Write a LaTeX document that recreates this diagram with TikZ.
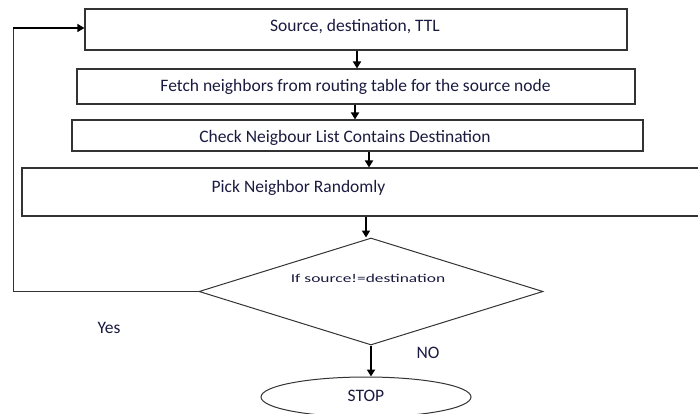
\documentclass[tikz,border=0pt]{standalone}
\usepackage{fontspec}
\setmainfont{Carlito}
\newfontfamily\widefont[FakeStretch=1.45]{Carlito}
\usetikzlibrary{arrows.meta,shapes.geometric}
\definecolor{linegray}{HTML}{333333}
\definecolor{txt}{HTML}{1A1A40}
\tikzset{
  procbox/.style={draw=linegray, line width=1.1pt, rectangle, inner sep=0pt},
  boxtext/.style={text=txt, font=\fontsize{17.5}{20}\selectfont, inner sep=0pt},
  labeltext/.style={text=txt, font=\fontsize{17.5}{20}\selectfont, inner sep=0pt},
  smalltext/.style={text=txt, font=\widefont\fontsize{12}{14}\selectfont, inner sep=0pt},
  flowarrow/.style={draw=black, line width=1.8pt, -{Triangle[length=7pt,width=8pt]}},
  thinline/.style={draw=linegray, line width=1pt}
}
\begin{document}
\begin{tikzpicture}[x=1pt,y=-1pt]
\useasboundingbox (0,0) rectangle (698,414);
\node[procbox, minimum width=542pt, minimum height=41pt] (box1) at (356,29.5) {};
\node[boxtext] (t1) at (355,27) {Source, destination, TTL};
\node[procbox, minimum width=558pt, minimum height=35pt] (box2) at (356,86.5) {};
\node[boxtext] (t2) at (355.5,87) {Fetch neighbors from routing table for the source node};
\node[procbox, minimum width=571pt, minimum height=31pt] (box3) at (357.5,135.5) {};
\node[boxtext] (t3) at (345,138) {Check Neigbour List Contains Destination};
\node[procbox, minimum width=680pt, minimum height=48pt] (box4) at (362,192) {};
\node[boxtext] (t4) at (298.5,188) {Pick Neighbor Randomly};
\node[shape=diamond, draw=linegray, line width=1pt, inner sep=0pt, minimum width=344pt, minimum height=107pt] (dia) at (371,291.5) {};
\node[smalltext] (t5) at (368,278) {If source!=destination};
\node[ellipse, draw=linegray, line width=1pt, inner sep=0pt, minimum width=210pt, minimum height=40pt] (stop) at (366,397) {};
\node[labeltext] (t6) at (366,396) {STOP};
\node[labeltext] (yes) at (109,328) {Yes};
\node[labeltext] (no) at (428,353) {NO};
\coordinate (a1) at (357,0);
\coordinate (a2) at (355,0);
\coordinate (a3) at (369,0);
\coordinate (a4) at (366,0);
\draw[flowarrow] (a1 |- box1.south) -- (a1 |- box2.north);
\draw[flowarrow] (a2 |- box2.south) -- (a2 |- box3.north);
\draw[flowarrow] (a3 |- box3.south) -- (a3 |- box4.north);
\draw[flowarrow] (a4 |- box4.south) -- (a4 |- dia.north);
\draw[flowarrow] (dia.south) -- (dia.south |- stop.north);
\coordinate (lb) at (13,0);
\coordinate (lt) at (13,28);
\draw[thinline] (dia.west) -- (lb |- dia.west) -- (lt);
\draw[flowarrow, line width=1.3pt] (lt) -- (lt -| box1.west);
\end{tikzpicture}
\end{document}
